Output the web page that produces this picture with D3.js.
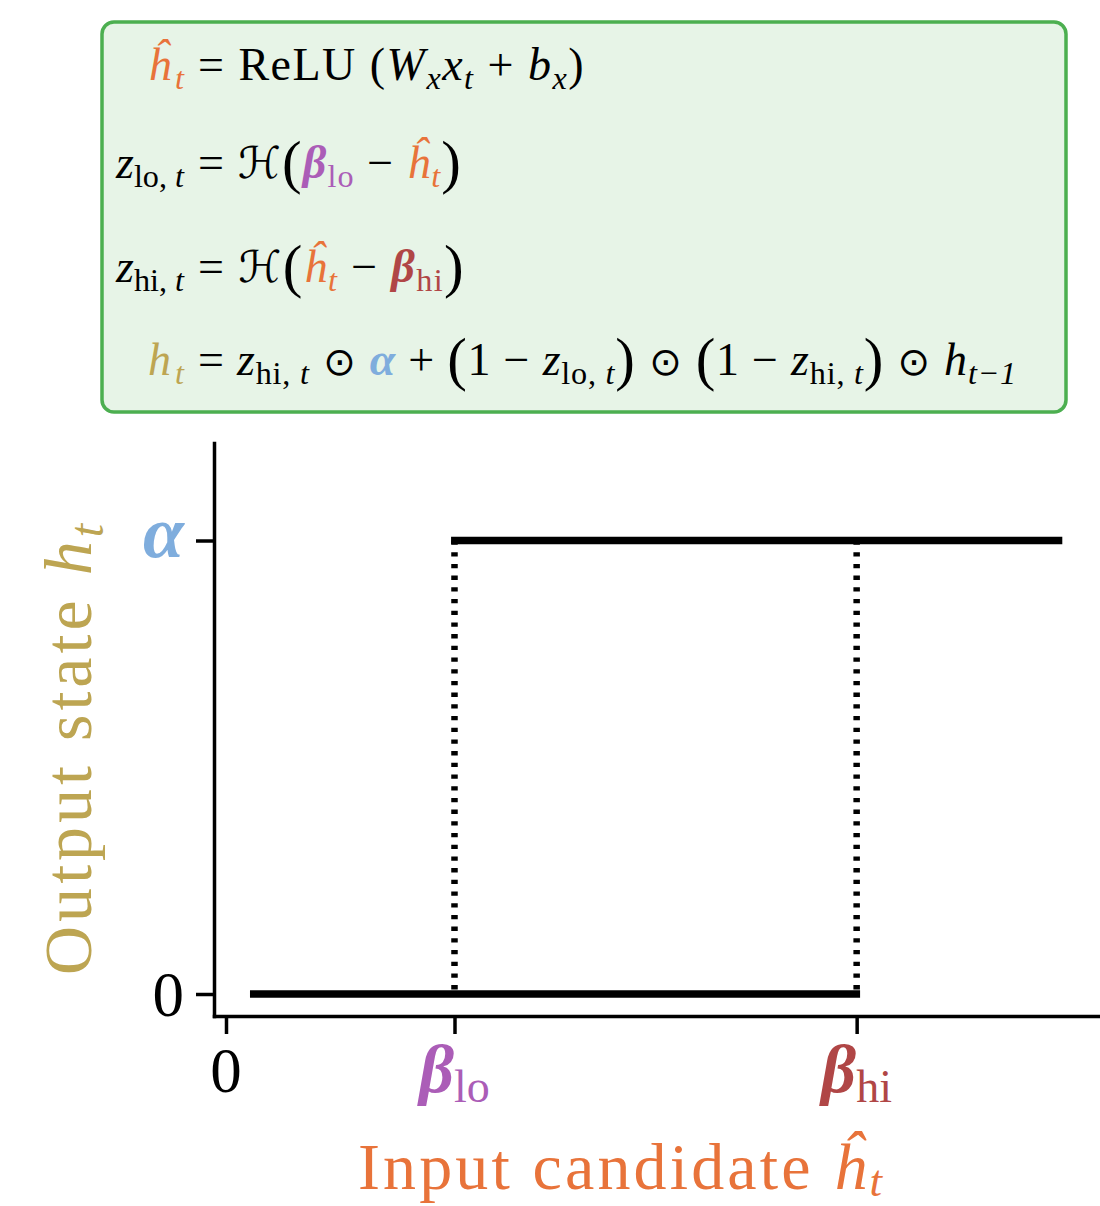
<!DOCTYPE html>
<html>
<head>
<meta charset="utf-8">
<script src="https://cdn.jsdelivr.net/npm/d3@7"></script>
<style>
  html, body { margin: 0; padding: 0; background: #ffffff; }
  svg text { white-space: pre; font-family: "Liberation Serif", "DejaVu Serif", serif; }
</style>
</head>
<body>
<svg id="chart" width="1100" height="1206"></svg>
<script>
// ---------------- data ----------------
const xTickValues = [0, 1, 2.76];
const xTickLabels = [["0", ""], ["β", "lo"], ["β", "hi"]];
const yTickValues = [0, 1];
const yTickLabels = ["0", "α"];
const lowSegmentX = [0.105, 2.775];
const lowSegmentY = [0, 0];
const highSegmentX = [0.985, 3.66];
const highSegmentY = [1, 1];
const thresholdX = [1, 2.76];     // beta_lo, beta_hi
const thresholdY = [0, 1];
const xLabelText = "Input candidate ";
const yLabelText = "Output state ";

// ---------------- styles ----------------
const C = {
  orange: "#E8733A", purple: "#AB5DB7", red: "#B04646",
  blue: "#7FADDD", gold: "#BDA552", green: "#4CAF50", fill: "#E7F4E7", black: "#000"
};
const tickColors = { "0": C.black, "lo": C.purple, "hi": C.red, "α": C.blue };
const SP = " ";

const svg = d3.select("#chart");

// ---------------- equation box ----------------
svg.append("rect")
  .attr("x", 102).attr("y", 22).attr("width", 964).attr("height", 390)
  .attr("rx", 12).attr("ry", 12)
  .attr("fill", C.fill).attr("stroke", C.green).attr("stroke-width", 3.5);

// token: style r roman, i italic, b bold italic, cal script, sym symbol; mode "" / "s" sub / "B" big paren
function tok(t, s, c, m) { return { t, s: s || "r", c: c || C.black, m: m || "" }; }

const eqLHS = [
  [tok("ĥ", "i", C.orange), tok("t", "i", C.orange, "s")],
  [tok("z", "i"), tok("lo,", "r", C.black, "s"), tok(" t", "i", C.black, "s")],
  [tok("z", "i"), tok("hi,", "r", C.black, "s"), tok(" t", "i", C.black, "s")],
  [tok("h", "i", C.gold), tok("t", "i", C.gold, "s")]
];
const eqRHS = [
  [tok("=" + SP), tok("ReLU" + SP), tok("("), tok("W", "i"), tok("x", "i", C.black, "s"), tok("x", "i"),
   tok("t", "i", C.black, "s"), tok(SP + "+" + SP), tok("b", "i"), tok("x", "i", C.black, "s"), tok(")")],
  [tok("=" + SP), tok("ℋ", "cal"), tok("(", "r", C.black, "B"), tok("β", "b", C.purple), tok("lo", "r", C.purple, "s"),
   tok(SP + "−" + SP), tok("ĥ", "i", C.orange), tok("t", "i", C.orange, "s"), tok(")", "r", C.black, "B")],
  [tok("=" + SP), tok("ℋ", "cal"), tok("(", "r", C.black, "B"), tok("ĥ", "i", C.orange), tok("t", "i", C.orange, "s"),
   tok(SP + "−" + SP), tok("β", "b", C.red), tok("hi", "r", C.red, "s"), tok(")", "r", C.black, "B")],
  [tok("=" + SP), tok("z", "i"), tok("hi,", "r", C.black, "s"), tok(" t", "i", C.black, "s"), tok(SP + "⊙" + SP, "sym"),
   tok("α", "b", C.blue), tok(SP + "+" + SP), tok("(", "r", C.black, "B"), tok("1" + SP + "−" + SP), tok("z", "i"),
   tok("lo,", "r", C.black, "s"), tok(" t", "i", C.black, "s"), tok(")", "r", C.black, "B"), tok(SP + "⊙" + SP, "sym"),
   tok("(", "r", C.black, "B"), tok("1" + SP + "−" + SP), tok("z", "i"), tok("hi,", "r", C.black, "s"),
   tok(" t", "i", C.black, "s"), tok(")", "r", C.black, "B"), tok(SP + "⊙" + SP, "sym"), tok("h", "i"),
   tok("t−1", "i", C.black, "s")]
];
const eqBaselines = [80, 178, 282, 375];
const eqLeftTargets = [148, 115, 115, 148];
const eqRightTargets = [585, 462, 465, 1017];

function renderTokens(textSel, tokens, base) {
  let cur = 0;
  tokens.forEach(tk => {
    let shift = 0, fs = base;
    if (tk.m === "s") { shift = base * 0.2; fs = base * 0.7; }
    if (tk.m === "B") { shift = base * 0.08; fs = base * 1.28; }
    const ts = textSel.append("tspan")
      .attr("dy", (shift - cur).toFixed(2))
      .attr("font-size", fs)
      .attr("fill", tk.c)
      .text(tk.t);
    if (tk.s === "i") ts.attr("font-style", "italic");
    if (tk.s === "b") ts.attr("font-style", "italic").attr("font-weight", "bold");
    if (tk.s === "cal") ts.attr("font-family", "DejaVu Serif, DejaVu Sans").attr("font-style", "italic").attr("font-size", fs * 0.95);
    if (tk.s === "sym") ts.attr("font-family", "DejaVu Sans").attr("font-size", fs * 0.85);
    cur = shift;
  });
}

// spread a text to a given width with letter-spacing (glyphs keep their shapes)
function fitSpacing(textSel, width) {
  const n = Math.max(1, textSel.text().length - 1);
  let ls = 0;
  for (let k = 0; k < 3; k++) {
    const bb = textSel.node().getBBox();
    ls += (width - bb.width) / n;
    textSel.style("letter-spacing", ls.toFixed(3) + "px");
  }
}

const eqG = svg.append("g");
eqLHS.forEach((lhs, i) => {
  const base = 46;
  const yb = eqBaselines[i];
  const gL = eqG.append("g");
  const tL = gL.append("text").attr("x", 0).attr("y", yb);
  renderTokens(tL, lhs, base);
  fitSpacing(tL, 185 - eqLeftTargets[i]);
  const bl = tL.node().getBBox();
  gL.attr("transform", `translate(${eqLeftTargets[i] - bl.x},0)`);

  const gR = eqG.append("g");
  const tR = gR.append("text").attr("x", 0).attr("y", yb);
  renderTokens(tR, eqRHS[i], base);
  fitSpacing(tR, eqRightTargets[i] - 198);
  const br = tR.node().getBBox();
  gR.attr("transform", `translate(${198 - br.x},0)`);
});

// ---------------- axes ----------------
const x = d3.scaleLinear().domain([-0.0525, 3.825]).range([214, 1100]);
const y = d3.scaleLinear().domain([-0.0485, 1.215]).range([1016, 443]);

const xAxis = d3.axisBottom(x).tickValues(xTickValues).tickSize(18).tickSizeOuter(0).tickFormat(() => "");
const yAxis = d3.axisLeft(y).tickValues(yTickValues).tickSize(18).tickSizeOuter(0).tickFormat(() => "");

const gx = svg.append("g").attr("transform", `translate(0,${y.range()[0]})`).call(xAxis);
const gy = svg.append("g").attr("transform", `translate(${x.range()[0]},0)`).call(yAxis);
[gx, gy].forEach(g => {
  g.select(".domain").attr("stroke", "#000").attr("stroke-width", 3.5).attr("stroke-linecap", "square");
  g.selectAll(".tick line").attr("stroke", "#000").attr("stroke-width", 3.5);
});

// x tick labels
xTickValues.forEach((v, i) => {
  const [b, s] = xTickLabels[i];
  const t = svg.append("text")
    .attr("x", x(v)).attr("y", 1092).attr("text-anchor", "middle")
    .attr("font-size", 63);
  if (s === "") {
    t.append("tspan").attr("fill", tickColors[b]).text(b);
  } else {
    t.append("tspan").attr("fill", tickColors[s]).attr("font-style", "italic").attr("font-weight", "bold")
      .attr("font-size", 68).text(b);
    t.append("tspan").attr("fill", tickColors[s]).attr("font-size", 46).attr("dy", 10).text(s);
  }
});

// y tick labels
yTickValues.forEach((v, i) => {
  const lbl = yTickLabels[i];
  const t = svg.append("text")
    .attr("x", 184).attr("y", y(v) + 22).attr("text-anchor", "end")
    .attr("font-size", 63).attr("fill", tickColors[lbl]).text(lbl);
  if (lbl === "α") t.attr("font-style", "italic").attr("font-weight", "bold").attr("font-size", 74).attr("y", y(v) + 16);
});

// ---------------- marks ----------------
const line = d3.line().x(d => x(d[0])).y(d => y(d[1]));
svg.append("path")
  .attr("d", line(lowSegmentX.map((xv, i) => [xv, lowSegmentY[i]])))
  .attr("stroke", "#000").attr("stroke-width", 7.5).attr("fill", "none");
svg.append("path")
  .attr("d", line(highSegmentX.map((xv, i) => [xv, highSegmentY[i]])))
  .attr("stroke", "#000").attr("stroke-width", 7.5).attr("fill", "none");
thresholdX.forEach(tx => {
  svg.append("path")
    .attr("d", line(thresholdY.map(yv => [tx, yv]).reverse()))
    .attr("stroke", "#000").attr("stroke-width", 6.5).attr("fill", "none")
    .attr("stroke-dasharray", "4.3 7.4");
});

// ---------------- axis titles ----------------
const xl = svg.append("text").attr("x", 0).attr("y", 1189).attr("font-size", 66).attr("fill", C.orange);
xl.append("tspan").text(xLabelText);
xl.append("tspan").attr("font-style", "italic").text("ĥ");
xl.append("tspan").attr("font-style", "italic").attr("font-size", 45).attr("dy", 7).text("t");
fitSpacing(xl, 885 - 358);
{
  const bb = xl.node().getBBox();
  xl.attr("x", 358 - bb.x);
}

const yg = svg.append("g").attr("transform", "translate(91,975) rotate(-90)");
const yl = yg.append("text").attr("x", 0).attr("y", 0).attr("font-size", 68).attr("fill", C.gold);
yl.append("tspan").text(yLabelText);
yl.append("tspan").attr("font-style", "italic").text("h");
yl.append("tspan").attr("font-style", "italic").attr("font-size", 48).attr("dy", 12).text("t");
fitSpacing(yl, 455);
{
  const bb = yl.node().getBBox();
  yl.attr("x", -bb.x);
}
</script>
</body>
</html>
